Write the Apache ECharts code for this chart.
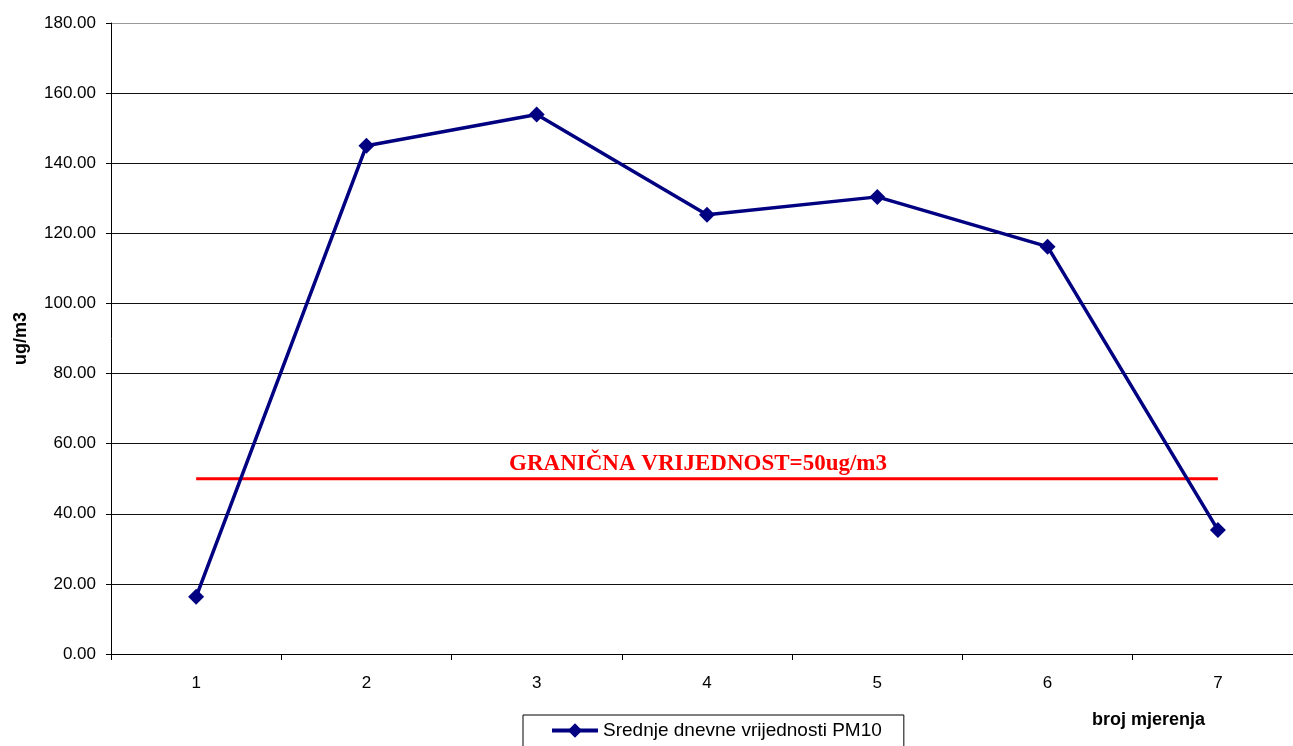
<!DOCTYPE html>
<html>
<head>
<meta charset="utf-8">
<script src="https://cdn.jsdelivr.net/npm/echarts@6/dist/echarts.min.js"></script>
<style>
  html, body { margin: 0; padding: 0; background: #fff; overflow: hidden; }
  /* plot area runs past the right edge of the picture, so the canvas is a bit wider */
  #chart { width: 1303px; height: 746px; }
</style>
</head>
<body>
<div id="chart"></div>
<script>
// broj mjerenja
const categories = ['1', '2', '3', '4', '5', '6', '7']
// srednje dnevne vrijednosti PM10 (ug/m3)
const pm10Values = [16.3, 145.0, 153.9, 125.3, 130.4, 116.2, 35.4]
// granicna vrijednost
const limitValues = [50, 50, 50, 50, 50, 50, 50]
const limitLabel = 'GRANIČNA VRIJEDNOST=50ug/m3'

const chart = echarts.init(document.getElementById('chart'))

const option = {
  animation: false,
  backgroundColor: '#ffffff',
  textStyle: { fontFamily: 'Arial, "Liberation Sans", sans-serif' },
  title: {
    text: 'broj mjerenja',
    left: 1092,
    top: 711,
    padding: 0,
    textStyle: { fontSize: 18, fontWeight: 'bold', color: '#000', fontFamily: 'Arial, "Liberation Sans", sans-serif' }
  },
  legend: {
    data: ['Srednje dnevne vrijednosti PM10'],
    left: 523,
    top: 715,
    itemWidth: 46,
    itemHeight: 18,
    itemGap: 4,
    padding: [6, 22, 10, 27],
    borderColor: '#000',
    borderWidth: 1,
    lineStyle: { width: 4 },
    textStyle: { fontSize: 19, color: '#000' }
  },
  grid: {
    left: 111,
    right: 0,
    top: 23,
    bottom: 92,
    containLabel: false
  },
  xAxis: {
    type: 'category',
    data: categories,
    boundaryGap: true,
    axisLine: { lineStyle: { color: '#000', width: 1 } },
    axisTick: { show: true, length: 6, lineStyle: { color: '#000' } },
    axisLabel: { color: '#000', fontSize: 17, margin: 21 },
    splitLine: { show: false }
  },
  yAxis: {
    type: 'value',
    min: 0,
    max: 180,
    interval: 20,
    name: 'ug/m3',
    nameLocation: 'middle',
    nameRotate: 90,
    nameGap: 81,
    nameTextStyle: { fontSize: 18, fontWeight: 'bold', color: '#000' },
    axisLine: { show: true, lineStyle: { color: '#000', width: 1 } },
    axisTick: { show: true, length: 5, lineStyle: { color: '#000' } },
    axisLabel: {
      color: '#000',
      fontSize: 17,
      margin: 15,
      formatter: v => v.toFixed(2)
    },
    splitLine: {
      show: true,
      lineStyle: { color: ['#111', '#111', '#111', '#111', '#111', '#111', '#111', '#111', '#111', '#999'], width: 1 }
    }
  },
  series: [
    {
      name: 'granica',
      type: 'line',
      data: limitValues.map((v, i) => i === 3
        ? {
            value: v,
            label: {
              show: true,
              position: 'top',
              distance: 3,
              offset: [-9, 0],
              formatter: limitLabel,
              color: '#ff0000',
              fontSize: 23,
              fontWeight: 'bold',
              fontFamily: '"Times New Roman", "Liberation Serif", serif'
            }
          }
        : v),
      showSymbol: true,
      symbol: 'circle',
      symbolSize: 1,
      itemStyle: { color: 'rgba(255,0,0,0)' },
      lineStyle: { color: '#ff0000', width: 3 },
      z: 2
    },
    {
      name: 'Srednje dnevne vrijednosti PM10',
      type: 'line',
      data: pm10Values,
      symbol: 'diamond',
      symbolSize: 16,
      itemStyle: { color: '#000080' },
      lineStyle: { color: '#000080', width: 3.5 },
      z: 3
    }
  ]
}

chart.setOption(option)
</script>
</body>
</html>
